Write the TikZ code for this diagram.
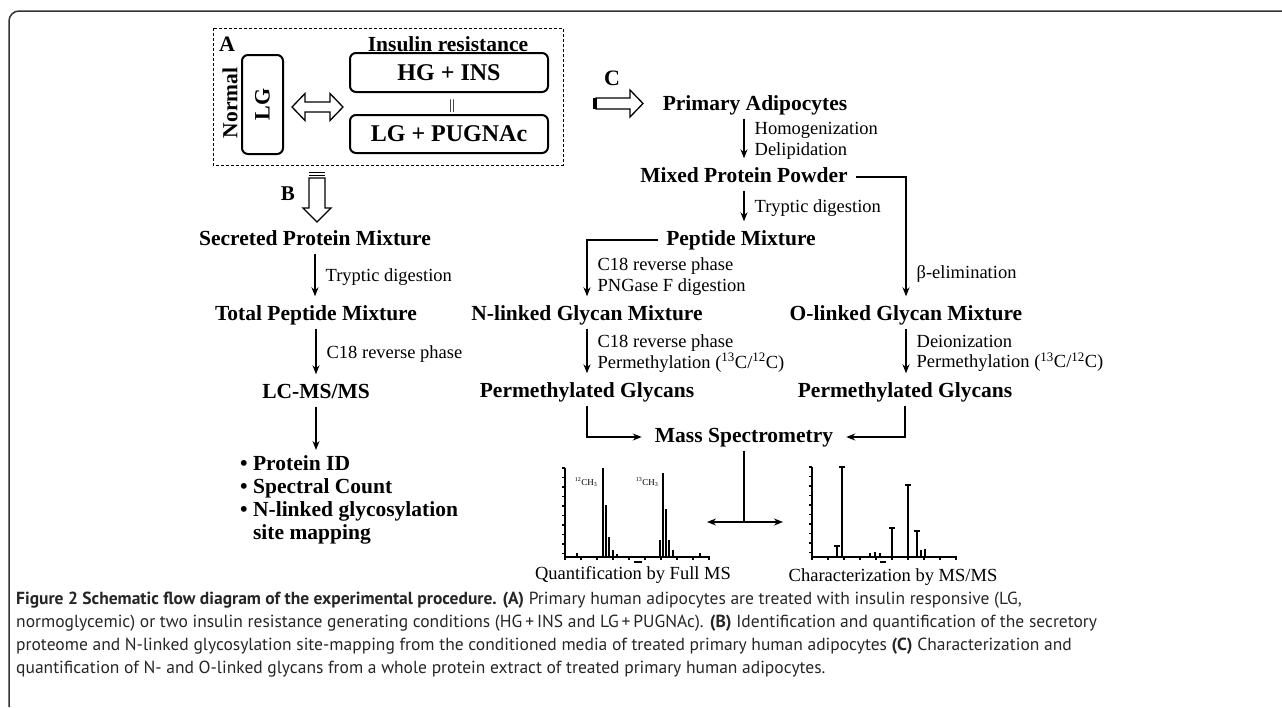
\documentclass[tikz,border=0pt]{standalone}
\usepackage{fontspec}
\setmainfont{Liberation Serif}
\newfontfamily\capfont{PT Sans}
\usetikzlibrary{arrows.meta}

\begin{document}
\begin{tikzpicture}[x=1pt, y=-1pt,
          line1/.style ={line width = 1.3pt, -{Stealth[length=9pt, width=7pt]}, shorten >=5pt},
          line2/.style ={line width = 1.3pt},
          hollow/.style ={line width = 1.3pt, fill=white, line join=miter},
          sample/.style ={font=\fontsize{21.5}{23}\selectfont\bfseries, inner xsep=8pt, inner ysep=4pt, text height=15pt, text depth=4pt},
          stage/.style ={font=\fontsize{18.5}{20.5}\selectfont, align=left, anchor=west, inner sep=0pt},
          cond/.style ={draw, line width=2pt, rounded corners=6pt, font=\fontsize{24}{26}\selectfont\bfseries},
          spec/.style ={line width = 1.1pt},
          captxt/.style ={font=\capfont\fontsize{17.5}{23}\selectfont, anchor=base west, inner sep=0pt, text=black!85}
          ]
\useasboundingbox (0,0) rectangle (1282,707);
\draw[line width=1.5pt, black!80, rounded corners=10pt] (1282,11) -- (9,11) -- (9,707);

\draw[densely dashed, line width=1pt] (213,28) rectangle (563,165);
\node[font=\fontsize{22}{24}\selectfont\bfseries] (labA) at (227,44) {A};
\node[rotate=90, font=\fontsize{21.5}{23}\selectfont\bfseries] (normal) at (230,103) {Normal};
\node[cond, rotate=90, minimum width=99pt, minimum height=41pt, font=\fontsize{22}{24}\selectfont\bfseries] (lg) at (262.5,104.5) {LG};
\node[font=\fontsize{21.5}{23}\selectfont\bfseries] (ir) at (448,44) {Insulin resistance};
\node[cond, minimum width=198pt, minimum height=39pt] (hgins) at (449,72.5) {HG + INS};
\node[font=\fontsize{14}{14}\selectfont, inner sep=0pt] (eq) at (452,106) {||};
\node[cond, minimum width=198pt, minimum height=38pt] (pugnac) at (449,134) {LG + PUGNAc};
\draw[hollow] (292,107) -- (305,93.5) -- (305,102) -- (330,102) -- (330,93.5) -- (343,107)
  -- (330,120.5) -- (330,112) -- (305,112) -- (305,120.5) -- cycle;

\draw[hollow] (309,178) -- (325,178) -- (325,208) -- (331,208) -- (317,222) -- (303,208) -- (309,208) -- cycle;
\fill (309,171.5) rectangle (325,173);
\fill (309,174.5) rectangle (325,176);
\node[font=\fontsize{21}{23}\selectfont\bfseries] (labB) at (288,194) {B};

\draw[hollow] (596,98) -- (630,98) -- (630,90) -- (643,103.5) -- (630,117) -- (630,109) -- (596,109) -- cycle;
\fill (593,98) rectangle (597,109);
\node[font=\fontsize{22}{24}\selectfont\bfseries] (labC) at (612,78) {C};

\node[sample] (secr) at (315,240) {Secreted Protein Mixture};
\node[sample] (totpep) at (316,315) {Total Peptide Mixture};
\node[sample] (lcms) at (316,393) {LC-MS/MS};
\node[font=\fontsize{21.5}{23}\selectfont\bfseries, align=left, anchor=north west, inner sep=0pt] (ids) at (240,455)
  {• Protein ID\\• Spectral Count\\• N-linked glycosylation\\\hphantom{• }site mapping};

\draw[line1] (secr.south) -- node[stage, xshift=10pt] {Tryptic digestion} (secr.south |- totpep.north);
\draw[line1] (totpep.south) -- node[stage, xshift=10pt] {C18 reverse phase} (totpep.south |- lcms.north);
\draw[line1] (lcms.south) -- (lcms.south |- ids.north);

\node[sample] (prim) at (755,105) {Primary Adipocytes};
\node[sample] (mixed) at (744,177) {Mixed Protein Powder};
\node[sample] (pepmix) at (741,240) {Peptide Mixture};
\node[sample] (nlink) at (587,315) {N-linked Glycan Mixture};
\node[sample] (olink) at (906,315) {O-linked Glycan Mixture};
\node[sample] (permN) at (587,392) {Permethylated Glycans};
\node[sample] (permO) at (905,392) {Permethylated Glycans};
\node[sample] (mass) at (744,437) {Mass Spectrometry};

\draw[line1] (prim.south -| mixed) -- node[stage, xshift=10pt] {Homogenization\\Delipidation} (mixed.north);
\draw[line1] (mixed.south) -- node[stage, xshift=10pt] {Tryptic digestion} (mixed.south |- pepmix.north);
\draw[line1] (pepmix.west) -| node[stage, pos=0.8, xshift=10pt] {C18 reverse phase\\PNGase F digestion} (nlink.north);
\draw[line1] (mixed.east) -| node[stage, pos=0.89, xshift=10pt] {β-elimination} (olink.north);
\draw[line1] (nlink.south) -- node[stage, xshift=10pt] {C18 reverse phase\\Permethylation (\textsuperscript{13}C/\textsuperscript{12}C)} (permN.north);
\draw[line1] (olink.south) -- node[stage, xshift=10pt] {Deionization\\Permethylation (\textsuperscript{13}C/\textsuperscript{12}C)} (olink.south |- permO.north);
\draw[line1] (permN.south) |- (mass.west);
\draw[line1] (permO.south) |- (mass.east);

\coordinate (split) at (744,522);
\coordinate (qtip) at (707,522);
\coordinate (ctip) at (783,522);
\draw[line2] (mass.south) -- (split);
\draw[line2, {Stealth[length=9pt, width=7pt]}-{Stealth[length=9pt, width=7pt]}] (qtip) -- (ctip);

\draw[spec] (565,468) -- (565,557) -- (710,557);
\foreach \t in {0,...,9}{
\draw[spec] ({565+\t*16},557) -- ++(0,3);
}
\foreach \t in {0,...,9}{
\draw[spec] (565,{468+\t*9.5}) -- ++(-3,0);
}
\foreach \px/\py in {577/553, 603/468, 606/505, 609/537, 613/550, 617/554, 660/540, 663/473, 666/509, 669/540, 673/550, 700/553}{
\draw[spec] (\px,557) -- (\px,\py);
}
\draw[spec] (634,562) -- (642,562);
\node[font=\fontsize{9}{9}\selectfont, inner sep=0pt] (c12) at (586,482) {\textsuperscript{12}CH\textsubscript{3}};
\node[font=\fontsize{9}{9}\selectfont, inner sep=0pt] (c13) at (647,482) {\textsuperscript{13}CH\textsubscript{3}};
\node[font=\fontsize{18.5}{20}\selectfont, inner sep=0pt] (quant) at (633,575) {Quantification by Full MS};

\draw[spec] (812,467) -- (812,557) -- (957,557);
\foreach \t in {0,...,9}{
\draw[spec] ({812+\t*16},557) -- ++(0,3);
}
\foreach \t in {0,...,9}{
\draw[spec] (812,{467+\t*9.5}) -- ++(-3,0);
}
\foreach \px/\py in {842/467, 908/485, 892/528, 917/531, 837/546}{
\draw[spec] (\px,557) -- (\px,\py);
\draw[spec] ({\px-3},\py) -- ({\px+3},\py);
}
\foreach \px/\py in {870/553, 875/552, 880/553, 921/550, 925/549}{
\draw[spec] (\px,557) -- (\px,\py);
}
\draw[spec] (880,562) -- (886,562);
\node[font=\fontsize{18.5}{20}\selectfont, inner sep=0pt] (charact) at (893,577) {Characterization by MS/MS};

\node[captxt] (cap1) at (16,604) {{\bfseries Figure 2 Schematic flow diagram of the experimental procedure. (A)} Primary human adipocytes are treated with insulin responsive (LG,};
\node[captxt] (cap2) at (16,627) {normoglycemic) or two insulin resistance generating conditions (HG\,+\,INS and LG\,+\,PUGNAc). {\bfseries (B)} Identification and quantification of the secretory};
\node[captxt] (cap3) at (16,650) {proteome and N-linked glycosylation site-mapping from the conditioned media of treated primary human adipocytes {\bfseries (C)} Characterization and};
\node[captxt] (cap4) at (16,673) {quantification of N- and O-linked glycans from a whole protein extract of treated primary human adipocytes.};
\end{tikzpicture}
\end{document}
